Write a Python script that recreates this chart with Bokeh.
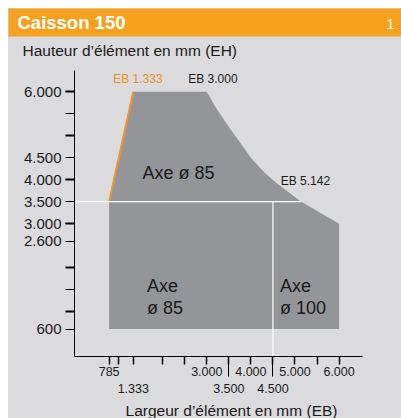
from bokeh.plotting import figure
from bokeh.models import FixedTicker, LinearAxis, Range1d, Title
from bokeh.layouts import column
from bokeh.embed import file_html
from bokeh.resources import INLINE
from bokeh.core.properties import value

# ---------------- data ----------------
title_text = "Caisson 150"
page_number = "1"
y_axis_title = "Hauteur d’élément en mm (EH)"
x_axis_title = "Largeur d’élément en mm (EB)"

# outline of the admissible zone: element width EB (mm) / element height EH (mm)
zone_eb = [785, 785, 1333, 3000, 3200, 3500, 3750, 4000, 4300, 4600, 4850, 5142, 6000, 6000]
zone_eh = [600, 3500, 6000, 6000, 5650, 5200, 4850, 4500, 4170, 3910, 3720, 3500, 3000, 600]

# orange limit edge
limit_eb = [785, 1333]
limit_eh = [3500, 6000]

# split lines between axle zones
split_eh = 3500
split_eb = 4500
split_end_eb = 5142

# annotations
corner_texts = ["EB 1.333", "EB 3.000", "EB 5.142"]
zone_texts = ["Axe ø 85", "Axe\nø 85", "Axe\nø 100"]

# ticks
x_ticks = [785, 1000, 1333, 2000, 2500, 3000, 3500, 4000, 4500, 5000, 5500, 6000]
x_tick_labels = ["785", "", "\n1.333", "", "", "3.000", "\n3.500", "4.000", "\n4.500", "5.000", "", "6.000"]
x_long_ticks = [3500, 4500]

y_ticks = [600, 1500, 2600, 3000, 3500, 4000, 4500, 5500, 6000]
y_tick_labels = ["600", "", "2.600", "3.000", "3.500", "4.000", "4.500", "", "6.000"]
y_thick_ticks = [1000, 2000, 3000, 4000, 5000, 6000]

# ---------------- style ----------------
ORANGE = "#F5A01E"
BG = "#DBDBDD"
ZONE = "#949599"
INK = "#1A1A1A"
FONT = "Liberation Sans"

# ---------------- header (orange band + y-axis title) ----------------
head = figure(width=393, height=54, x_range=Range1d(0, 393), y_range=Range1d(0, 29),
              x_axis_type=None, y_axis_type=None,
              min_border_left=0, min_border_right=0, min_border_top=0, min_border_bottom=25,
              frame_align=False, output_backend="svg", toolbar_location=None,
              background_fill_color=ORANGE, border_fill_color=BG, outline_line_color=None)
head.text(x=[9], y=[14.8], text=[title_text], text_font=value(FONT), text_font_style="bold",
          text_font_size="18.5px", text_color="white", text_baseline="middle", text_align="left")
head.text(x=[382], y=[13], text=[page_number], text_font=value(FONT),
          text_font_size="14px", text_color="white", text_baseline="middle", text_align="center")
head.add_layout(Title(text=y_axis_title, align="left", offset=14, standoff=7,
                      text_font=FONT, text_font_size="15.5px", text_font_style="normal",
                      text_color=INK), "below")

# ---------------- main chart ----------------
p = figure(width=393, height=356, x_range=Range1d(0, 6531), y_range=Range1d(-23, 6485),
           x_axis_type=None, y_axis_type=None, frame_align=False,
           min_border_left=66, min_border_right=39, min_border_top=8, min_border_bottom=61,
           output_backend="svg", toolbar_location=None,
           background_fill_color=BG, border_fill_color=BG, outline_line_color=None)

p.patch(zone_eb, zone_eh, fill_color=ZONE, line_color=None)
p.line(limit_eb, limit_eh, line_color="#F0962A", line_width=2)

p.segment(x0=[0], y0=[split_eh], x1=[split_end_eb], y1=[split_eh],
          line_color="white", line_width=1.2)
p.segment(x0=[split_eb], y0=[split_eh], x1=[split_eb], y1=[-23],
          line_color="white", line_width=1.2)

p.text(x=[1438, 3138, 5236], y=[6281, 6281, 3968], text=corner_texts,
       text_color=["#EE8F22", INK, INK], text_font=value(FONT), text_font_size="12px",
       text_baseline="middle", text_align="center")
p.text(x=[2361], y=[4150], text=zone_texts[:1], text_color=INK, text_font=value(FONT),
       text_font_size="18px", text_baseline="middle", text_align="center")
p.text(x=[1642, 4658], y=[1813, 1813], text=zone_texts[1:], text_color=INK, text_font=value(FONT),
       text_font_size="18px", text_baseline="top", text_align="left", text_line_height=1.1)

ay = LinearAxis(ticker=FixedTicker(ticks=y_ticks, minor_ticks=y_thick_ticks),
                major_label_overrides=dict(zip(y_ticks, y_tick_labels)),
                major_tick_out=9, major_tick_in=0, minor_tick_out=9, minor_tick_in=0,
                major_tick_line_color="black", minor_tick_line_color="black",
                minor_tick_line_width=2,
                major_label_standoff=4, major_label_text_font=FONT,
                major_label_text_font_size="15px", major_label_text_color=INK,
                axis_line_color="black")
p.add_layout(ay, "left")

ax = LinearAxis(ticker=FixedTicker(ticks=x_ticks, minor_ticks=x_long_ticks),
                major_label_overrides=dict(zip(x_ticks, x_tick_labels)),
                major_tick_out=8, major_tick_in=0, minor_tick_out=20, minor_tick_in=0,
                major_tick_line_color="black", minor_tick_line_color="black",
                major_tick_line_width=1.5, minor_tick_line_width=1,
                major_label_standoff=-12, major_label_text_font=FONT,
                major_label_text_font_size="12.5px", major_label_text_line_height=1.25,
                major_label_text_color=INK, axis_line_color="black")
p.add_layout(ax, "below")

p.add_layout(Title(text=x_axis_title, align="right", offset=25, standoff=0,
                   text_font=FONT, text_font_size="15.5px", text_font_style="normal",
                   text_color=INK), "below")

layout = column(head, p, spacing=0, margin=(8, 0, 0, 8), styles={"background-color": BG})
open("out.html", "w").write(file_html(layout, INLINE))
